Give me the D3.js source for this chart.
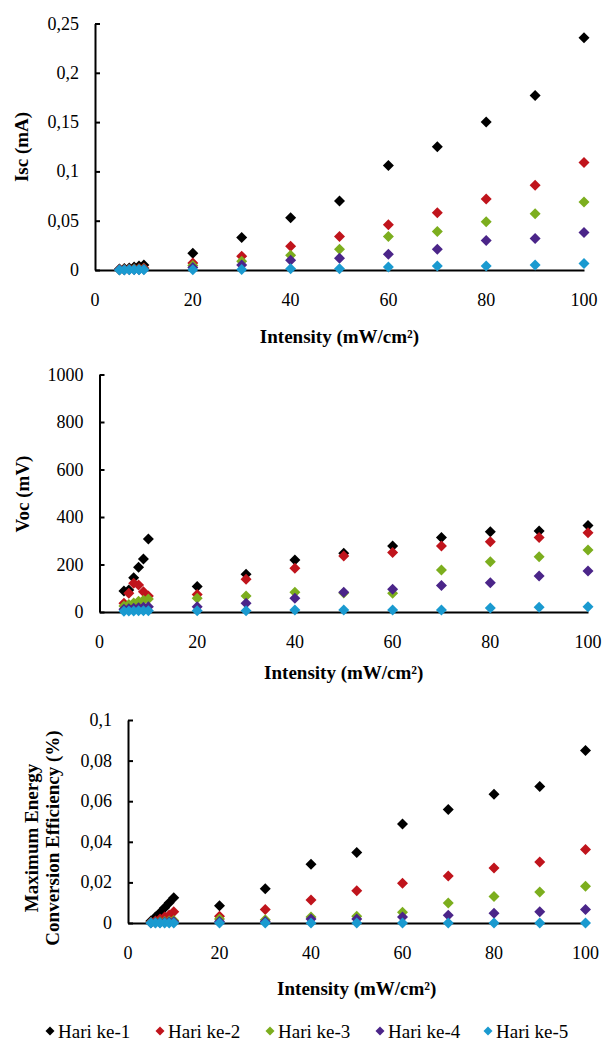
<!DOCTYPE html>
<html>
<head>
<meta charset="utf-8">
<script src="https://cdn.jsdelivr.net/npm/d3@7"></script>
<style>
  html, body { margin: 0; padding: 0; background: #fff; }
  svg { display: block; }
  text { font-family: "Liberation Serif", "Times New Roman", serif; fill: #000; }
</style>
</head>
<body>
<svg id="chart" width="602" height="1045"></svg>
<script>
// ---------------- DATA ----------------
const intensity = [5, 6, 7, 8, 9, 10, 20, 30, 40, 50, 60, 70, 80, 90, 100];
const seriesNames = ["Hari ke-1", "Hari ke-2", "Hari ke-3", "Hari ke-4", "Hari ke-5"];

// Isc (mA)
const iscH1 = [0.001, 0.0015, 0.002, 0.003, 0.004, 0.005, 0.017, 0.033, 0.053, 0.070, 0.106, 0.125, 0.150, 0.177, 0.2355];
const iscH2 = [0.0005, 0.0008, 0.001, 0.0013, 0.0016, 0.002, 0.007, 0.014, 0.024, 0.034, 0.046, 0.058, 0.072, 0.086, 0.109];
const iscH3 = [0.0003, 0.0005, 0.0007, 0.0009, 0.001, 0.0012, 0.0045, 0.009, 0.015, 0.021, 0.034, 0.039, 0.049, 0.057, 0.069];
const iscH4 = [0.0002, 0.0003, 0.0004, 0.0005, 0.0006, 0.0007, 0.0025, 0.005, 0.010, 0.012, 0.016, 0.021, 0.030, 0.032, 0.038];
const iscH5 = [0.0001, 0.0001, 0.0002, 0.0002, 0.0003, 0.0003, 0.0003, 0.0004, 0.0012, 0.0012, 0.003, 0.004, 0.004, 0.005, 0.0065];

// Voc (mV)
const vocH1 = [88, 93, 144, 188, 223, 307, 107, 159, 219, 247, 278, 314, 338, 341, 364];
const vocH2 = [37, 79, 121, 114, 85, 67, 74, 138, 184, 236, 251, 278, 296, 314, 334];
const vocH3 = [25, 32, 38, 45, 50, 55, 58, 67, 83, 80, 79, 177, 212, 233, 261];
const vocH4 = [12, 14, 16, 18, 20, 22, 22, 37, 58, 83, 96, 112, 123, 152, 173];
const vocH5 = [3, 4, 4, 5, 5, 5, 5, 5, 8, 8, 8, 8, 17, 20, 22];

// Maximum energy conversion efficiency (%)
const effH1 = [0.001, 0.003, 0.005, 0.0075, 0.01, 0.0125, 0.0085, 0.0169, 0.0289, 0.0347, 0.0488, 0.0559, 0.0634, 0.0672, 0.085];
const effH2 = [0.0005, 0.001, 0.002, 0.003, 0.004, 0.0055, 0.0033, 0.0066, 0.0113, 0.0159, 0.0196, 0.0232, 0.0271, 0.0301, 0.0362];
const effH3 = [0.0003, 0.0004, 0.0006, 0.0008, 0.001, 0.0012, 0.002, 0.0016, 0.003, 0.0033, 0.0053, 0.0099, 0.013, 0.0153, 0.0181];
const effH4 = [0.0001, 0.0002, 0.0003, 0.0004, 0.0005, 0.0006, 0.0008, 0.0008, 0.002, 0.002, 0.003, 0.0038, 0.0048, 0.0056, 0.0067];
const effH5 = [0, 0, 0, 0, 0, 0, 0, 0, 0, 0, 0, 0, 0, 0, 0];

// Tick labels
const xTicks = [0, 20, 40, 60, 80, 100];
const iscTicks = [0, 0.05, 0.1, 0.15, 0.2, 0.25];
const vocTicks = [0, 200, 400, 600, 800, 1000];
const effTicks = [0, 0.02, 0.04, 0.06, 0.08, 0.1];

// ---------------- STYLE / LAYOUT ----------------
const palette = ["#000000", "#c0141c", "#7cae1e", "#4b2589", "#1a9ad0"];
const FONT_TICK = 18, FONT_TITLE = 19;
const xTitle = "Intensity (mW/cm\u00B2)";

const panels = [
  { series: [iscH1, iscH2, iscH3, iscH4, iscH5], yTicks: iscTicks,
    left: 95, right: 584, top: 23.5, bottom: 270, yTitle: ["Isc (mA)"], yTitleX: [21], yTitleY: 147, xTitleY: 336 },
  { series: [vocH1, vocH2, vocH3, vocH4, vocH5], yTicks: vocTicks,
    left: 99.5, right: 588, top: 374.5, bottom: 612, yTitle: ["Voc (mV)"], yTitleX: [22], yTitleY: 494, xTitleY: 672 },
  { series: [effH1, effH2, effH3, effH4, effH5], yTicks: effTicks,
    left: 128, right: 585.5, top: 720, bottom: 923, yTitle: ["Maximum Energy", "Conversion Efficiency (%)"], yTitleX: [31, 52], yTitleY: 838, xTitleY: 988 }
];

const fmt = v => String(+v.toFixed(4)).replace(".", ",");
const diamond = (cx, cy, r) => `M${cx},${cy - r}L${cx + r},${cy}L${cx},${cy + r}L${cx - r},${cy}Z`;

const svg = d3.select("#chart");

panels.forEach(p => {
  const x = d3.scaleLinear().domain([0, 100]).range([p.left, p.right]);
  const y = d3.scaleLinear().domain([0, d3.max(p.yTicks)]).range([p.bottom, p.top]);
  const g = svg.append("g");

  // y axis (ticks inward)
  const yAxis = g.append("g").attr("transform", `translate(${p.left},0)`)
    .call(d3.axisRight(y).tickValues(p.yTicks).tickSize(5).tickSizeOuter(0).tickFormat(""));
  yAxis.select(".domain").attr("stroke", "#000").attr("stroke-width", 2);
  yAxis.selectAll(".tick line").attr("stroke", "#000").attr("stroke-width", 2);
  // y tick labels
  g.append("g").selectAll("text").data(p.yTicks).join("text")
    .attr("x", p.left - 16).attr("y", d => y(d))
    .attr("text-anchor", "end").attr("dominant-baseline", "central")
    .style("font-size", FONT_TICK + "px").text(fmt);

  // x axis
  const xAxis = g.append("g").attr("transform", `translate(0,${p.bottom})`)
    .call(d3.axisBottom(x).tickValues(xTicks).tickSize(0).tickSizeOuter(0).tickFormat(""));
  xAxis.select(".domain").attr("stroke", "#000").attr("stroke-width", 2);
  g.append("g").selectAll("text").data(xTicks).join("text")
    .attr("x", d => x(d)).attr("y", p.bottom + 30)
    .attr("text-anchor", "middle").attr("dominant-baseline", "central")
    .style("font-size", FONT_TICK + "px").text(fmt);

  // titles
  g.append("text").attr("x", (p.left + p.right) / 2).attr("y", p.xTitleY)
    .attr("text-anchor", "middle").attr("dominant-baseline", "central")
    .style("font-size", FONT_TITLE + "px").style("font-weight", "bold").text(xTitle);
  p.yTitle.forEach((t, i) => {
    g.append("text")
      .attr("transform", `translate(${p.yTitleX[i]},${p.yTitleY}) rotate(-90)`)
      .attr("text-anchor", "middle").attr("dominant-baseline", "central")
      .style("font-size", FONT_TITLE + "px").style("font-weight", "bold").text(t);
  });

  // markers
  p.series.forEach((vals, si) => {
    g.append("g").selectAll("path").data(vals).join("path")
      .attr("d", (v, i) => diamond(x(intensity[i]), y(v), 5.5))
      .attr("fill", palette[si]);
  });
});

// legend
const legendX = [50, 160, 270, 380, 488];
const legendY = 1031;
const lg = svg.append("g");
seriesNames.forEach((name, i) => {
  lg.append("path").attr("d", diamond(legendX[i], legendY, 4.5)).attr("fill", palette[i]);
  lg.append("text").attr("x", legendX[i] + 8).attr("y", legendY)
    .attr("dominant-baseline", "central").style("font-size", "19px").text(name);
});
</script>
</body>
</html>
